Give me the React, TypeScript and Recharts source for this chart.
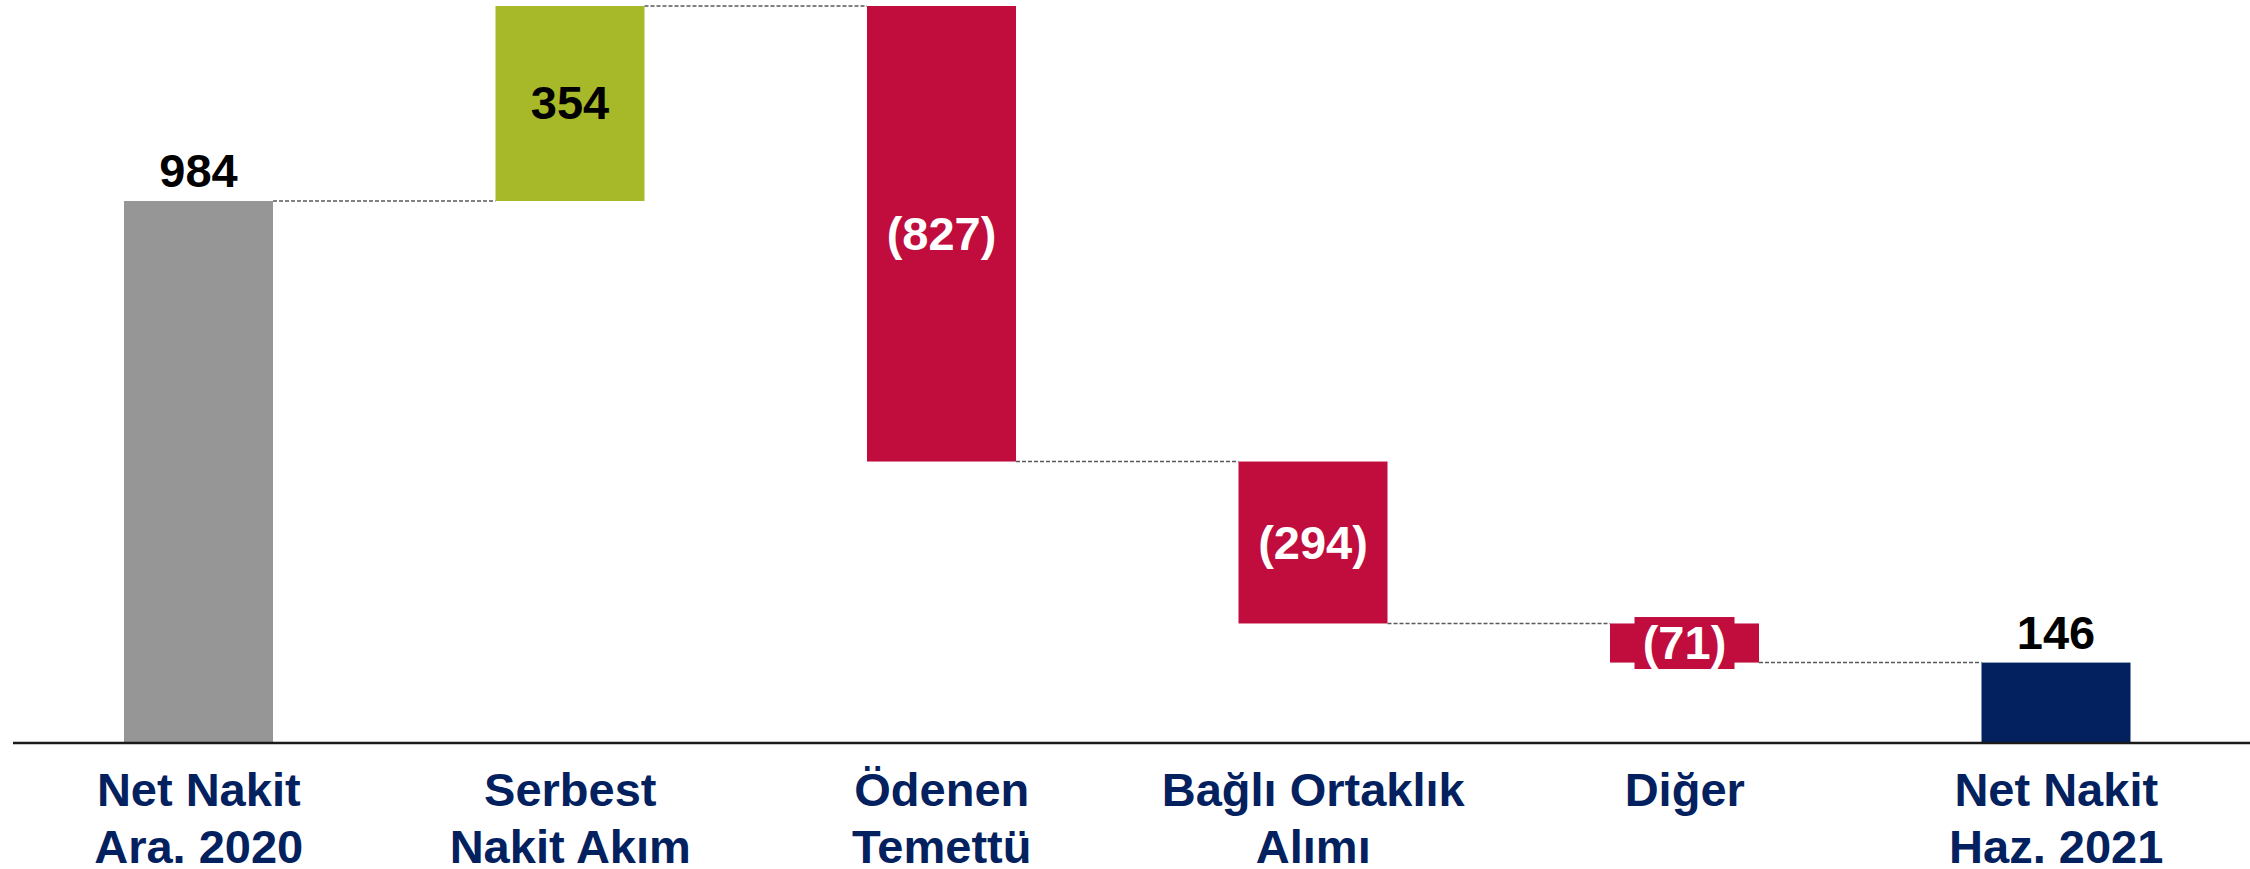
import { BarChart, Bar, XAxis, YAxis, LabelList } from "recharts";

const categories = [
    "Net Nakit\nAra. 2020",
    "Serbest\nNakit Akım",
    "Ödenen\nTemettü",
    "Bağlı Ortaklık\nAlımı",
    "Diğer",
    "Net Nakit\nHaz. 2021",
];
const changes = [984, 354, -827, -294, -71, 146];
const kinds = ["start", "up", "down", "down", "down", "end"];
const valueLabels = ["984", "354", "(827)", "(294)", "(71)", "146"];

const COLORS: Record<string, string> = {
    start: "#969696",
    up: "#a7b828",
    down: "#c00d3d",
    end: "#03215e",
};
const NAVY = "#03215e";
const FONT = "'Liberation Sans', Arial, sans-serif";

const W = 2250;
const H = 869;
const M_LEFT = 13;
const PAD_R = 8;
const STEP = (W - M_LEFT - PAD_R) / categories.length;

function buildRows() {
    let run = 0;
    return categories.map((name, i) => {
        const kind = kinds[i];
        let lo: number, hi: number;
        if (kind === "start" || kind === "end") {
            lo = 0;
            hi = changes[i];
            run = changes[i];
        } else {
            const next = run + changes[i];
            lo = Math.min(run, next);
            hi = Math.max(run, next);
            run = next;
        }
        return { name, kind, range: [lo, hi], label: valueLabels[i] };
    });
}

const rows = buildRows();

function WaterfallShape(props: any) {
    const { x, y, width, height, payload, index } = props;
    const level = payload.kind === "down" ? y + height : y;
    const last = index === rows.length - 1;
    return (
        <g>
            <rect x={x} y={y} width={width} height={height} fill={COLORS[payload.kind]} />
            {!last && (
                <line
                    x1={x + width}
                    x2={x + STEP}
                    y1={level}
                    y2={level}
                    stroke="#5a5a5a"
                    strokeWidth={1.5}
                    strokeDasharray="4 2"
                />
            )}
        </g>
    );
}

function ValueLabel(props: any) {
    const { x, y, width, height, index } = props;
    const row = rows[index];
    const cx = x + width / 2;
    const text = row.label;
    if (row.kind === "start" || row.kind === "end") {
        return (
            <text x={cx} y={y - 14} textAnchor="middle" fill="#000" fontSize={47} fontWeight={700} fontFamily={FONT}>
                {text}
            </text>
        );
    }
    const cy = y + height / 2;
    const down = row.kind === "down";
    return (
        <g>
            {down && <rect x={cx - 50} y={cy - 26} width={100} height={52} fill={COLORS.down} />}
            <text
                x={cx}
                y={cy + 16}
                textAnchor="middle"
                fill={down ? "#fff" : "#000"}
                fontSize={47}
                fontWeight={700}
                fontFamily={FONT}
            >
                {text}
            </text>
        </g>
    );
}

function CategoryTick(props: any) {
    const { x, y, payload } = props;
    const lines = String(payload.value).split("\n");
    return (
        <text x={x} y={y} textAnchor="middle" fill={NAVY} fontSize={47} fontWeight={700} fontFamily={FONT}>
            {lines.map((l, i) => (
                <tspan key={i} x={x} dy={i === 0 ? 63 : 57}>
                    {l}
                </tspan>
            ))}
        </text>
    );
}

export default function App() {
    return (
        <div style={{ position: "absolute", left: 0, top: 0, width: W, height: H, background: "#fff" }}>
            <BarChart
                width={W}
                height={H}
                data={rows}
                margin={{ top: 6, right: 0, bottom: 0, left: M_LEFT }}
                barSize={149}
            >
                <XAxis
                    dataKey="name"
                    height={126}
                    padding={{ left: 0, right: PAD_R }}
                    axisLine={{ stroke: "#1a1a1a", strokeWidth: 2.5 }}
                    tickLine={false}
                    tickSize={0}
                    tickMargin={0}
                    interval={0}
                    tick={<CategoryTick />}
                />
                <YAxis hide domain={[0, 1338]} />
                <Bar dataKey="range" isAnimationActive={false} shape={<WaterfallShape />}>
                    <LabelList dataKey="range" content={<ValueLabel />} />
                </Bar>
            </BarChart>
        </div>
    );
}
